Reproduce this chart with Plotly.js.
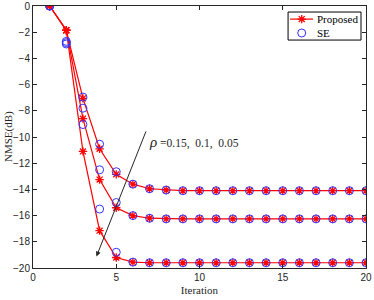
<!DOCTYPE html>
<html><head><meta charset="utf-8">
<script src="https://cdn.plot.ly/plotly-3.0.1.min.js"></script>
<style>body{margin:0;padding:0;background:#fff}#chart{width:374px;height:300px}</style>
</head><body><div id="chart"></div>
<script>
const iterations = [1,2,3,4,5,6,7,8,9,10,11,12,13,14,15,16,17,18,19,20];
const proposedA = [0,-1.85,-7.05,-10.9,-12.85,-13.6,-13.95,-14.05,-14.1,-14.1,-14.1,-14.1,-14.1,-14.1,-14.1,-14.1,-14.1,-14.1,-14.1,-14.1];
const proposedB = [0,-1.85,-8.6,-13.25,-15.4,-16.0,-16.2,-16.25,-16.25,-16.25,-16.25,-16.25,-16.25,-16.25,-16.25,-16.25,-16.25,-16.25,-16.25,-16.25];
const proposedC = [0,-1.85,-11.1,-17.15,-19.2,-19.55,-19.6,-19.6,-19.6,-19.6,-19.6,-19.6,-19.6,-19.6,-19.6,-19.6,-19.6,-19.6,-19.6,-19.6];
const seA = [0,-2.7,-6.95,-10.55,-12.65,-13.6,-13.95,-14.05,-14.1,-14.1,-14.1,-14.1,-14.1,-14.1,-14.1,-14.1,-14.1,-14.1,-14.1,-14.1];
const seB = [0,-2.8,-7.8,-12.5,-15.0,-16.0,-16.2,-16.25,-16.25,-16.25,-16.25,-16.25,-16.25,-16.25,-16.25,-16.25,-16.25,-16.25,-16.25,-16.25];
const seC = [0,-2.9,-9.05,-15.5,-18.8,-19.55,-19.6,-19.6,-19.6,-19.6,-19.6,-19.6,-19.6,-19.6,-19.6,-19.6,-19.6,-19.6,-19.6,-19.6];
const xTicks = [0,5,10,15,20];
const yTicks = [0,-2,-4,-6,-8,-10,-12,-14,-16,-18,-20];
const legendNames = ['Proposed','SE'];
const rhoLabel = '<i><span style="font-size:15px">ρ</span></i> =0.15,  0.1,  0.05';

const red = '#ff0000', blue = '#3333ff';
const serif = 'Liberation Serif, Times New Roman, serif';
const propMarker = {symbol:'asterisk-open', size:7, color:red, line:{color:red, width:1.3}};
const seMarker = {symbol:'circle-open', size:8, color:blue, line:{color:blue, width:1}};
const traces = [];
[proposedA, proposedB, proposedC].forEach(y=>traces.push({
  x:iterations, y:y, type:'scatter', mode:'lines+markers', name:legendNames[0],
  showlegend:false, line:{color:red, width:1.2}, marker:propMarker
}));
[seA, seB, seC].forEach(y=>traces.push({
  x:iterations, y:y, type:'scatter', mode:'markers', name:legendNames[1],
  showlegend:false, marker:seMarker
}));

// compact legend (MATLAB style) drawn on an overlay axis in paper-like units
const lg = {x0:0.766, x1:0.985, y0:0.870, y1:0.977, lineX0:0.772, lineX1:0.841, keyX:0.807, textX:0.846, row1:0.950, row2:0.897};
traces.push({x:[lg.keyX], y:[lg.row1], xaxis:'x2', yaxis:'y2', type:'scatter', mode:'markers',
  showlegend:false, hoverinfo:'skip', marker:propMarker});
traces.push({x:[lg.keyX], y:[lg.row2], xaxis:'x2', yaxis:'y2', type:'scatter', mode:'markers',
  showlegend:false, hoverinfo:'skip', marker:seMarker});

const axisCommon = {showline:true, mirror:'ticks', linecolor:'#262626', linewidth:1,
  ticks:'inside', ticklen:4, tickcolor:'#262626', showgrid:false, zeroline:false,
  tickfont:{family:'Liberation Sans, Arial, sans-serif', size:10, color:'#262626'}};

const layout = {
  width:374, height:300,
  margin:{l:33, r:8, t:6, b:32},
  paper_bgcolor:'#fff', plot_bgcolor:'#fff',
  showlegend:false,
  xaxis:Object.assign({}, axisCommon, {range:[0,20], tickvals:xTicks,
    title:{text:'Iteration', font:{family:serif, size:11, color:'#262626'}, standoff:4}}),
  yaxis:Object.assign({}, axisCommon, {range:[-20,0], tickvals:yTicks}),
  xaxis2:{overlaying:'x', range:[0,1], visible:false, fixedrange:true},
  yaxis2:{overlaying:'y', range:[0,1], visible:false, fixedrange:true},
  shapes:[
    {type:'rect', xref:'paper', yref:'paper', x0:lg.x0, x1:lg.x1, y0:lg.y0, y1:lg.y1,
     line:{color:'#000', width:1}, fillcolor:'#fff', layer:'below'},
    {type:'line', xref:'paper', yref:'paper', x0:lg.lineX0, x1:lg.lineX1, y0:lg.row1, y1:lg.row1,
     line:{color:red, width:1.2}}
  ],
  annotations:[
    {x:3.81, y:-19.12, ax:6.82, ay:-9.46, xref:'x', yref:'y', axref:'x', ayref:'y',
     text:'', showarrow:true, arrowhead:2, arrowsize:1, arrowwidth:1, arrowcolor:'#262626'},
    {x:6.85, y:-10.35, xref:'x', yref:'y', xanchor:'left', yanchor:'middle', showarrow:false,
     text:rhoLabel, font:{family:serif, size:11.5, color:'#262626'}},
    {x:-0.075, y:0.5, xref:'paper', yref:'paper', textangle:-90, showarrow:false,
     xanchor:'center', yanchor:'middle', text:'NMSE(dB)', font:{family:serif, size:11, color:'#262626'}},
    {x:lg.textX, y:lg.row1, xref:'paper', yref:'paper', xanchor:'left', yanchor:'middle', showarrow:false,
     text:legendNames[0], font:{family:serif, size:11, color:'#000'}},
    {x:lg.textX, y:lg.row2, xref:'paper', yref:'paper', xanchor:'left', yanchor:'middle', showarrow:false,
     text:legendNames[1], font:{family:serif, size:11, color:'#000'}}
  ]
};
Plotly.newPlot('chart', traces, layout, {displayModeBar:false, staticPlot:true});
</script></body></html>
